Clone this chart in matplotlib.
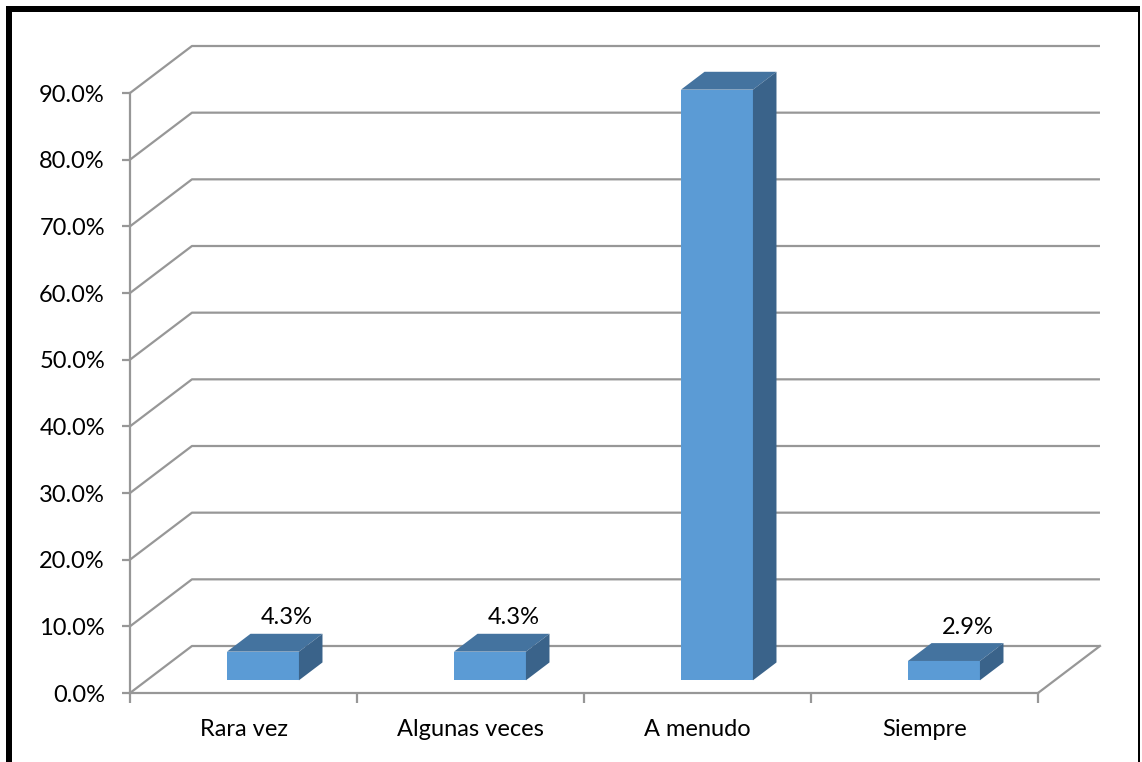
import numpy as np
import matplotlib.pyplot as plt
from matplotlib.patches import Polygon, Rectangle
from matplotlib.ticker import FuncFormatter

categories = ['Rara vez', 'Algunas veces', 'A menudo', 'Siempre']
percentages = [4.3, 4.3, 88.6, 2.9]
y_ticks = np.arange(0, 100, 10)

# perspective offset from the front plane to the back wall, in data units
depth_x = 0.273
depth_y = 7.05
bar_width = 0.317
bar_shift = 0.012                  # bars sit slightly right of the slot centre
bar_front, bar_back = 0.27, 0.65   # bar depth as fraction of the floor

grid_color = '#979797'
face_color = '#5b9bd5'
top_color = '#44739f'
side_color = '#3a638a'

plt.rcParams['font.family'] = ['Lato', 'DejaVu Sans']

W, H = 1142, 762
fig = plt.figure(figsize=(W / 100, H / 100), dpi=100)
ax = fig.add_axes([130 / W, 69 / H, 908 / W, 600 / H])
n = len(categories)
ax.set_xlim(0, n)
ax.set_ylim(0, 90)

# back wall gridlines and floor
for y in y_ticks:
    ax.plot([0, depth_x, n + depth_x], [y, y + depth_y, y + depth_y],
            color=grid_color, lw=1.6, clip_on=False, zorder=1,
            solid_capstyle='butt')
ax.plot([n, n + depth_x], [0, depth_y], color=grid_color, lw=1.6,
        clip_on=False, zorder=1)

# 3D bars: front face, top and right side
dxb = (bar_back - bar_front) * depth_x
dyb = (bar_back - bar_front) * depth_y
for i, v in enumerate(percentages):
    fx = i + 0.5 + bar_shift - bar_width / 2 + bar_front * depth_x
    fy = bar_front * depth_y
    w = bar_width
    ax.add_patch(Rectangle((fx, fy), w, v, facecolor=face_color,
                           edgecolor='none', zorder=3, clip_on=False))
    ax.add_patch(Polygon([(fx, fy + v), (fx + w, fy + v),
                          (fx + w + dxb, fy + v + dyb), (fx + dxb, fy + v + dyb)],
                         closed=True, facecolor=top_color, edgecolor='none',
                         zorder=3, clip_on=False))
    ax.add_patch(Polygon([(fx + w, fy), (fx + w + dxb, fy + dyb),
                          (fx + w + dxb, fy + v + dyb), (fx + w, fy + v)],
                         closed=True, facecolor=side_color, edgecolor='none',
                         zorder=3, clip_on=False))
    ax.annotate(f'{v:.1f}%', (fx + dxb + w / 2, fy + v + dyb),
                xytext=(0, 4), textcoords='offset points',
                ha='center', va='bottom', fontsize=17, zorder=4)

# axes
for side in ['top', 'right']:
    ax.spines[side].set_visible(False)
for side in ['left', 'bottom']:
    ax.spines[side].set_color(grid_color)
    ax.spines[side].set_linewidth(1.6)
    ax.spines[side].set_zorder(2)

ax.set_yticks(y_ticks)
ax.yaxis.set_major_formatter(FuncFormatter(lambda v, _: f'{v:.1f}%'))
ax.tick_params(axis='y', length=6, width=1.6, color=grid_color,
               labelsize=17, pad=12)

ax.set_xticks(np.arange(n + 1))
ax.set_xticklabels([])
ax.set_xticks(np.arange(n) + 0.5, minor=True)
ax.set_xticklabels(categories, minor=True)
ax.tick_params(axis='x', which='major', length=7, width=1.6, color=grid_color)
ax.tick_params(axis='x', which='minor', length=0, labelsize=17, pad=19)

# chart border
fig.add_artist(Rectangle((6 / W, 0), 6 / W, (H - 6) / H, transform=fig.transFigure,
                         facecolor='black', edgecolor='none'))
fig.add_artist(Rectangle((6 / W, (H - 12) / H), (1140 - 6) / W, 6 / H,
                         transform=fig.transFigure, facecolor='black',
                         edgecolor='none'))
fig.add_artist(Rectangle((1138 / W, 0), 2 / W, (H - 6) / H, transform=fig.transFigure,
                         facecolor='black', edgecolor='none'))

fig.savefig('out.png', dpi=100)
